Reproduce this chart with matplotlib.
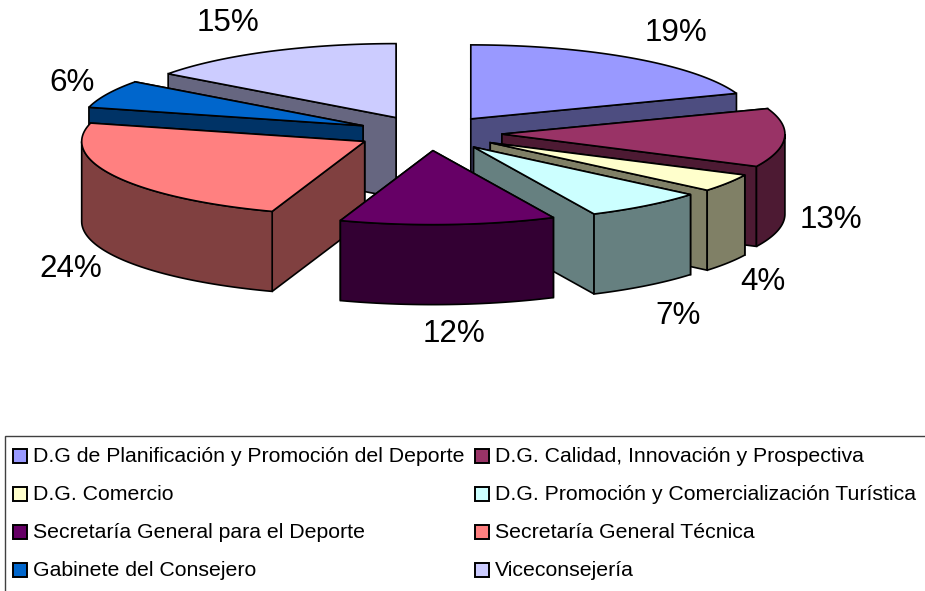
import matplotlib
matplotlib.use("Agg")
import matplotlib.pyplot as plt
import numpy as np
from matplotlib.patches import Polygon, Rectangle

nombres = ["D.G de Planificación y Promoción del Deporte",
           "D.G. Calidad, Innovación y Prospectiva",
           "D.G. Comercio",
           "D.G. Promoción y Comercialización Turística",
           "Secretaría General para el Deporte",
           "Secretaría General Técnica",
           "Gabinete del Consejero",
           "Viceconsejería"]
valores = [19.4, 12.8, 3.9, 6.9, 12.3, 23.7, 6.1, 14.9]
colores = ["#9999FF", "#993366", "#FFFFCC", "#CCFFFF",
           "#660066", "#FF8080", "#0066CC", "#CCCCFF"]

# layout in pixels
cx, cy = 429, 133.2
a, b = 283, 74
sep_x, sep_y = 0.258, 0.236
alto = 80
pos_etq = [(676, 33), (831, 220), (763, 282), (678, 316),
           (454, 334), (71, 269), (72, 83), (228, 23)]
filas_y = [455, 493, 531, 569]
col_x = [13, 475]


def punto(t):
    return np.array([a*np.sin(t), -b*np.cos(t)])


def oscuro(c, f=0.5):
    return tuple(v*f for v in matplotlib.colors.to_rgb(c))


fig = plt.figure(figsize=(9.25, 5.91), dpi=100)
ax = fig.add_axes([0, 0, 1, 1])
ax.set_xlim(0, 925)
ax.set_ylim(591, 0)
ax.axis("off")

bordes = np.cumsum([0]+valores)/sum(valores)*2*np.pi
medios = (bordes[:-1]+bordes[1:])/2

# back slices first
orden = np.argsort(-np.cos(medios))
z = 1
for i in orden:
    t0, t1 = bordes[i], bordes[i+1]
    cen = np.array([cx, cy])+punto(medios[i])*[sep_x, sep_y]
    ts = np.linspace(t0, t1, 60)
    arco = np.array([cen+punto(t) for t in ts])
    baja = np.array([0, alto])
    lado = oscuro(colores[i])
    # cut faces
    caras = []
    for t in (t0, t1):
        p = cen+punto(t)
        caras.append(np.array([cen, p, p+baja, cen+baja]))
    caras.sort(key=lambda c: c[1][1])
    for c in caras:
        ax.add_patch(Polygon(c, fc=lado, ec="black", lw=1.2, zorder=z))
        z += 1
    # rim, front part only
    frente = arco[np.cos(ts) < 0]
    if len(frente) > 1:
        pared = np.vstack([frente, (frente+baja)[::-1]])
        ax.add_patch(Polygon(pared, fc=lado, ec="black", lw=1.2, zorder=z))
        z += 1
    ax.add_patch(Polygon(np.vstack([cen, arco]), fc=colores[i], ec="black",
                         lw=1.2, zorder=z))
    z += 1

for v, (x, y) in zip(valores, pos_etq):
    ax.text(x, y, f"{round(v)}%", fontsize=22.6, family="Liberation Sans",
            ha="center", va="center", color="black", zorder=z)

# legend box runs past the right and bottom edges
ax.add_patch(Rectangle((5, 436), 940, 170, fc="white", ec="#404040",
                       lw=1, zorder=z))
z += 1
for i, nombre in enumerate(nombres):
    x = col_x[i % 2]
    y = filas_y[i//2]
    ax.add_patch(Rectangle((x, y-6), 14, 14, fc=colores[i], ec="black",
                           lw=1.4, zorder=z))
    ax.text(x+20, y+1, nombre, fontsize=15.3, family="Liberation Sans",
            ha="left", va="center", color="black", zorder=z)

fig.savefig("out.png", dpi=100)
